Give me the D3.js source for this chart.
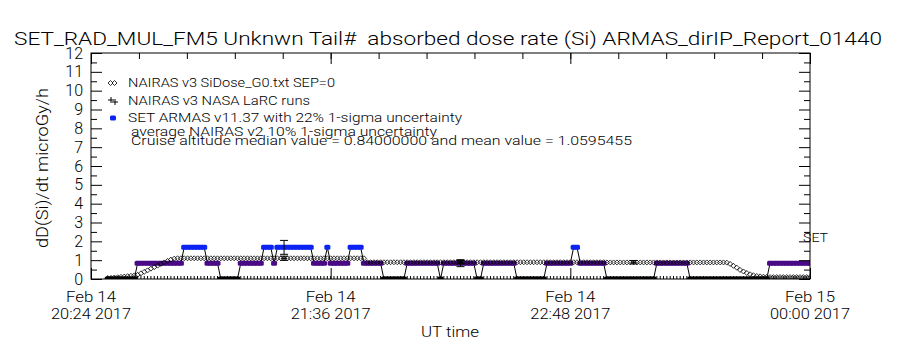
<!DOCTYPE html>
<html>
<head>
<meta charset="utf-8">
<script src="https://cdn.jsdelivr.net/npm/d3@7"></script>
<style>
  body { margin: 0; background: #fff; }
  text { font-family: Roboto, "DejaVu Sans", sans-serif; font-weight: 300; fill: #000; white-space: pre; }
</style>
</head>
<body>
<div id="chart"></div>
<script>
// time window and axis labels
const timeStart = new Date(Date.UTC(2017, 1, 14, 20, 24));
const timeEnd = new Date(Date.UTC(2017, 1, 15, 0, 0));
const xMajorMinutes = [0, 72, 144, 216];
const xTickLabels = [['Feb 14', '20:24 2017'], ['Feb 14', '21:36 2017'], ['Feb 14', '22:48 2017'], ['Feb 15', '00:00 2017']];
const yMajor = [0, 1, 2, 3, 4, 5, 6, 7, 8, 9, 10, 11, 12];

// both series are 1 minute samples starting at 20:29 (minute 5)
const sampleStartMinute = 5;

// SET ARMAS dose rate, microGy/h
const armasDose = [
  0, 0, 0, 0, 0, 0, 0, 0, 0,
  0.84, 0.84, 0.84, 0.84, 0.84, 0.84, 0.84, 0.84, 0.84, 0.84, 0.84, 0.84, 0.84, 0.84,
  1.68, 1.68, 1.68, 1.68, 1.68, 1.68, 1.68,
  0.84, 0.84, 0.84, 0.84,
  0, 0, 0, 0, 0, 0,
  0.84, 0.84, 0.84, 0.84, 0.84, 0.84, 0.84,
  1.68, 1.68, 1.68,
  0.84,
  1.68, 1.68, 1.68, 1.68, 1.68, 1.68, 1.68, 1.68, 1.68, 1.68, 1.68,
  0.84, 0.84, 0.84, 0.84,
  1.68,
  0.84, 0.84, 0.84, 0.84, 0.84, 0.84,
  1.68, 1.68, 1.68, 1.68,
  0.84, 0.84, 0.84, 0.84, 0.84, 0.84,
  0, 0, 0, 0, 0, 0, 0,
  0.84, 0.84, 0.84, 0.84, 0.84, 0.84, 0.84, 0.84, 0.84, 0.84,
  0,
  0.84, 0.84, 0.84, 0.84, 0.84, 0.84, 0.84, 0.84, 0.84, 0.84,
  0, 0,
  0.84, 0.84, 0.84, 0.84, 0.84, 0.84, 0.84, 0.84, 0.84, 0.84,
  0, 0, 0, 0, 0, 0, 0, 0, 0,
  0.84, 0.84, 0.84, 0.84, 0.84, 0.84, 0.84, 0.84,
  1.68, 1.68,
  0.84, 0.84, 0.84, 0.84, 0.84, 0.84, 0.84, 0.84,
  0, 0, 0, 0, 0, 0, 0, 0, 0, 0, 0, 0, 0, 0, 0,
  0.84, 0.84, 0.84, 0.84, 0.84, 0.84, 0.84, 0.84, 0.84, 0.84,
  0, 0, 0, 0, 0, 0, 0, 0, 0, 0, 0, 0, 0, 0, 0, 0, 0, 0, 0, 0, 0, 0, 0, 0,
  0.84, 0.84, 0.84, 0.84, 0.84, 0.84, 0.84, 0.84, 0.84, 0.84, 0.84, 0.84, 0.84
];

// NAIRAS v3 SiDose_G0, microGy/h
const nairasDose = [
  0.05, 0.06, 0.08, 0.09, 0.11, 0.13, 0.15, 0.17, 0.19,
  0.22, 0.30, 0.38, 0.46, 0.55, 0.63, 0.71, 0.80, 0.88, 0.96, 1.03, 1.08,
  1.10, 1.10, 1.10, 1.10, 1.10, 1.10, 1.10, 1.10, 1.10, 1.10, 1.10, 1.10, 1.10, 1.10, 1.10, 1.10, 1.10, 1.10, 1.10,
  1.10, 1.10, 1.10, 1.10, 1.10, 1.10, 1.10, 1.10, 1.10, 1.10, 1.10, 1.10, 1.10, 1.10, 1.10, 1.10, 1.10, 1.10, 1.10,
  1.10, 1.10, 1.10, 1.10, 1.10, 1.10, 1.10, 1.10, 1.10, 1.10, 1.10, 1.10, 1.10, 1.10, 1.10, 1.10, 1.10, 1.10, 1.10,
  0.89, 0.89, 0.89, 0.89, 0.89, 0.89, 0.89, 0.89, 0.89, 0.89, 0.89, 0.89, 0.89, 0.89, 0.89, 0.89, 0.89, 0.89,
  0.89, 0.89, 0.89, 0.89, 0.89, 0.89, 0.89, 0.89, 0.89, 0.89, 0.89, 0.89, 0.89, 0.89, 0.89, 0.89, 0.89, 0.89,
  0.89, 0.89, 0.89, 0.89, 0.89, 0.89, 0.89, 0.89, 0.89, 0.89, 0.89, 0.89, 0.89, 0.89, 0.89, 0.89, 0.89, 0.89,
  0.89, 0.89, 0.89, 0.89, 0.89, 0.89, 0.89, 0.89, 0.89, 0.89, 0.89, 0.89, 0.89, 0.89, 0.89, 0.89, 0.89, 0.89,
  0.88, 0.88, 0.88, 0.88, 0.88, 0.88, 0.88, 0.88, 0.88, 0.88, 0.88, 0.88, 0.88, 0.88, 0.88, 0.88, 0.88, 0.88,
  0.88, 0.88, 0.88, 0.88, 0.88, 0.88, 0.88, 0.88, 0.88, 0.88, 0.88, 0.88, 0.88, 0.88, 0.88, 0.88, 0.88, 0.88,
  0.87, 0.80, 0.70, 0.60, 0.48, 0.40, 0.32, 0.25, 0.20, 0.16, 0.14, 0.12, 0.11, 0.10,
  0.10, 0.10, 0.10, 0.10, 0.10, 0.10, 0.10, 0.10, 0.10, 0.10, 0.10, 0.10
];

// NAIRAS v3 NASA LaRC runs (with NAIRAS v2 10% uncertainty) and ARMAS 22% bars at the same times
const larcMinute = [58, 111, 163];
const larcDose = [1.10, 0.89, 0.89];
const larcUnc = 0.10;
const armasUnc = 0.22;

const legendLines = [
  'NAIRAS v3 SiDose_G0.txt SEP=0',
  'NAIRAS v3 NASA LaRC runs',
  'SET ARMAS v11.37 with 22% 1-sigma uncertainty',
  'average NAIRAS v2 10% 1-sigma uncertainty',
  'Cruise altitude median value = 0.84000000 and mean value = 1.0595455'
];

const width = 900;
const height = 350;
const pLeft = 91, pRight = 810, pTop = 53, pBottom = 279;

const minuteToDate = m => new Date(timeStart.getTime() + m * 60000);

const svg = d3.select('#chart').append('svg')
  .attr('width', width)
  .attr('height', height);
svg.append('rect').attr('width', width).attr('height', height).attr('fill', '#fff');

const x = d3.scaleTime().domain([timeStart, timeEnd]).range([pLeft, pRight]);
const y = d3.scaleLinear().domain([0, 12]).range([pBottom, pTop]);

svg.append('clipPath').attr('id', 'plotclip')
  .append('rect').attr('x', pLeft).attr('y', pTop).attr('width', pRight - pLeft).attr('height', pBottom - pTop);

const armas = armasDose.map((v, i) => ({ date: minuteToDate(sampleStartMinute + i), value: v }));
const nairas = nairasDose.map((v, i) => ({ date: minuteToDate(sampleStartMinute + i), value: v }));
const armasAt = m => armasDose[m - sampleStartMinute];

const colorOf = v => v === 0 ? '#000' : (v > 1 ? '#0b24f4' : '#4a0a86');

const plot = svg.append('g').attr('clip-path', 'url(#plotclip)');

// sample marks on the zero line
plot.append('g').selectAll('line').data(armas).join('line')
  .attr('x1', d => x(d.date)).attr('x2', d => x(d.date))
  .attr('y1', y(0)).attr('y2', y(0) - 3)
  .attr('stroke', '#000').attr('stroke-width', 1);

// ARMAS connecting line
plot.append('path')
  .attr('fill', 'none')
  .attr('stroke', '#000')
  .attr('stroke-width', 1)
  .attr('d', d3.line().x(d => x(d.date)).y(d => y(d.value))(armas));

// ARMAS markers
plot.append('g').selectAll('rect').data(armas).join('rect')
  .attr('x', d => x(d.date) - 3)
  .attr('y', d => y(d.value) - 2.5)
  .attr('width', 6).attr('height', 5).attr('rx', 1.5)
  .attr('fill', d => colorOf(d.value));

// NAIRAS diamonds
const diamond = 'M0,-2.5L2.5,0L0,2.5L-2.5,0Z';
plot.append('g').selectAll('path').data(nairas).join('path')
  .attr('transform', d => `translate(${x(d.date)},${y(d.value)})`)
  .attr('d', diamond)
  .attr('fill', 'none').attr('stroke', '#000').attr('stroke-width', 0.8);

// error bars
function errorBar(g, m, lo, hi) {
  const cx = x(minuteToDate(m));
  g.append('line').attr('x1', cx).attr('x2', cx).attr('y1', y(lo)).attr('y2', y(hi));
  g.append('line').attr('x1', cx - 4).attr('x2', cx + 4).attr('y1', y(lo)).attr('y2', y(lo));
  g.append('line').attr('x1', cx - 4).attr('x2', cx + 4).attr('y1', y(hi)).attr('y2', y(hi));
}
const bars = plot.append('g').attr('stroke', '#000').attr('stroke-width', 1);
larcMinute.forEach((m, i) => {
  const a = armasAt(m);
  if (a > 0) errorBar(bars, m, a * (1 - armasUnc), a * (1 + armasUnc));
  errorBar(bars, m, larcDose[i] * (1 - larcUnc), larcDose[i] * (1 + larcUnc));
  const cx = x(minuteToDate(m)), cy = y(larcDose[i]);
  bars.append('line').attr('x1', cx - 3).attr('x2', cx + 3).attr('y1', cy).attr('y2', cy);
});

// frame
svg.append('rect')
  .attr('x', pLeft).attr('y', pTop).attr('width', pRight - pLeft).attr('height', pBottom - pTop)
  .attr('fill', 'none').attr('stroke', '#000').attr('stroke-width', 1);

// y axes
const yMinor = d3.range(0.5, 12, 1);
const axisL = d3.axisLeft(y).tickValues(yMajor).tickSize(-11).tickPadding(8).tickFormat(d3.format('d'));
svg.append('g').attr('transform', `translate(${pLeft},0)`).call(axisL)
  .call(g => g.select('.domain').remove())
  .call(g => g.selectAll('text').attr('font-size', 16).attr('font-family', 'Roboto, sans-serif'));
svg.append('g').attr('transform', `translate(${pLeft},0)`)
  .call(d3.axisLeft(y).tickValues(yMinor).tickSize(-6).tickFormat(''))
  .call(g => g.select('.domain').remove());
svg.append('g').attr('transform', `translate(${pRight},0)`)
  .call(d3.axisRight(y).tickValues(yMajor).tickSize(-11).tickFormat(''))
  .call(g => g.select('.domain').remove());
svg.append('g').attr('transform', `translate(${pRight},0)`)
  .call(d3.axisRight(y).tickValues(yMinor).tickSize(-6).tickFormat(''))
  .call(g => g.select('.domain').remove());

// x axes
const xMajor = xMajorMinutes.map(minuteToDate);
const xMinor = d3.range(0, 217, 14.4).map(minuteToDate);
svg.append('g').attr('transform', `translate(0,${pBottom})`)
  .call(d3.axisBottom(x).tickValues(xMajor).tickSize(-11).tickFormat(''))
  .call(g => g.select('.domain').remove());
svg.append('g').attr('transform', `translate(0,${pTop})`)
  .call(d3.axisTop(x).tickValues(xMajor).tickSize(-11).tickFormat(''))
  .call(g => g.select('.domain').remove());
svg.append('g').attr('transform', `translate(0,${pTop})`)
  .call(d3.axisTop(x).tickValues(xMinor).tickSize(-6).tickFormat(''))
  .call(g => g.select('.domain').remove());

function label(txt, px, py, size, len, anchor) {
  return svg.append('text')
    .attr('x', px).attr('y', py)
    .attr('font-size', size)
    .attr('text-anchor', anchor || 'start')
    .attr('textLength', len)
    .attr('lengthAdjust', 'spacingAndGlyphs')
    .text(txt);
}

xTickLabels.forEach((lines, i) => {
  const px = x(xMajor[i]);
  label(lines[0], px, 302, 15, 50, 'middle');
  label(lines[1], px, 319, 15, 80, 'middle');
});
label('UT time', 450, 337, 15, 58, 'middle');

// title
label('SET_RAD_MUL_FM5 Unknwn Tail#  absorbed dose rate (Si) ARMAS_dirIP_Report_01440', 14, 45, 19, 868);

// y label
svg.append('text')
  .attr('transform', 'translate(48,168) rotate(-90)')
  .attr('font-size', 17)
  .attr('text-anchor', 'middle')
  .attr('textLength', 160)
  .attr('lengthAdjust', 'spacingAndGlyphs')
  .text('dD(Si)/dt microGy/h');

// legend
const legendY = [87, 105, 122, 136, 145];
const legendLen = [207, 182, 334, 306, 501];
legendLines.forEach((t, i) => label(t, i < 3 ? 128 : 131, legendY[i], 13, legendLen[i]));
[110.5, 114.5].forEach(cx => {
  svg.append('path').attr('transform', `translate(${cx},83)`).attr('d', diamond)
    .attr('fill', 'none').attr('stroke', '#000').attr('stroke-width', 0.8);
});
const plusG = svg.append('g').attr('stroke', '#000').attr('stroke-width', 1);
[[111, 100], [115, 102]].forEach(([cx, cy]) => {
  plusG.append('line').attr('x1', cx - 3).attr('x2', cx + 3).attr('y1', cy).attr('y2', cy);
  plusG.append('line').attr('x1', cx).attr('x2', cx).attr('y1', cy - 3).attr('y2', cy + 3);
});
svg.append('rect').attr('x', 110).attr('y', 115.5).attr('width', 6).attr('height', 5).attr('rx', 1.5)
  .attr('fill', colorOf(1.68));

// right side label
label('SET', 803, 242, 13, 25);
</script>
</body>
</html>
